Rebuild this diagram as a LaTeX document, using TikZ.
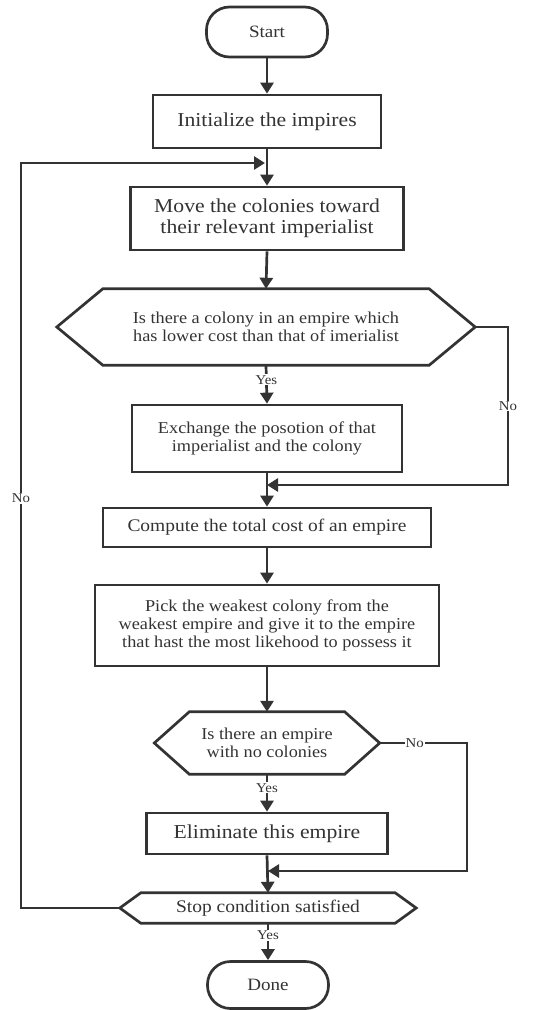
\documentclass[tikz,border=0pt]{standalone}
\usepackage{fontspec}
\setmainfont{Liberation Serif}[FakeStretch=1.1]
\usetikzlibrary{arrows.meta}
\definecolor{ink}{HTML}{333333}
\tikzset{
  box/.style={draw=ink, line width=2.7pt, rectangle, align=center, text=ink, inner sep=2pt},
  term/.style={box, rounded corners=23pt, font=\fontsize{17.3}{19}\selectfont},
  hexnode/.style={rectangle, align=center, text=ink, inner sep=0pt},
  arr/.style={draw=ink, line width=2.7pt, -{Triangle[width=13pt,length=11pt]}},
  ln/.style={draw=ink, line width=2.7pt},
  lbl/.style={fill=white, text=ink, inner sep=1pt, font=\fontsize{13.5}{15}\selectfont},
  bigf/.style={font=\fontsize{19.7}{20.5}\selectfont},
  smallf/.style={font=\fontsize{16.6}{18}\selectfont},
  midf/.style={font=\fontsize{17.7}{19}\selectfont},
}
\newcommand\hexdraw[2]{\draw[ln] (#1.west) -- ([xshift=#2]#1.north west) -- ([xshift=-#2]#1.north east) -- (#1.east) -- ([xshift=-#2]#1.south east) -- ([xshift=#2]#1.south west) -- cycle;}
\begin{document}
\begin{tikzpicture}[x=1pt,y=-1pt]
\useasboundingbox (0,0) rectangle (552,1010);
\node[term, minimum width=121pt, minimum height=50pt] (start) at (267,32) {Start};
\node[box, bigf, minimum width=228pt, minimum height=53pt] (init) at (267,121.5) {Initialize the impires};
\node[box, bigf, minimum width=273pt, minimum height=63pt] (move) at (267,218.5) {Move the colonies toward\\their relevant imperialist};
\node[hexnode, smallf, minimum width=418pt, minimum height=76pt] (hex1) at (266,327) {Is there a colony in an empire which\\has lower cost than that of imerialist};
\hexdraw{hex1}{46pt}
\node[box, smallf, minimum width=270pt, minimum height=67pt] (exch) at (267,438.5) {Exchange the posotion of that\\imperialist and the colony};
\node[box, midf, minimum width=328pt, minimum height=39pt] (comp) at (267,527.5) {Compute the total cost of an empire};
\node[box, smallf, minimum width=344pt, minimum height=81pt] (pick) at (267,625.5) {Pick the weakest colony from the\\weakest empire and give it to the empire\\that hast the most likehood to possess it};
\node[hexnode, smallf, minimum width=225pt, minimum height=62pt] (hex2) at (267,743) {Is there an empire\\with no colonies};
\hexdraw{hex2}{35pt}
\node[box, bigf, minimum width=241pt, minimum height=41pt] (elim) at (267,833.5) {Eliminate this empire};
\node[hexnode, midf, minimum width=296pt, minimum height=30pt] (hex3) at (268,908) {Stop condition satisfied};
\hexdraw{hex3}{21pt}
\node[term, minimum width=121pt, minimum height=47pt] (done) at (268,985) {Done};

\coordinate (loopin) at (265,163);
\coordinate (lefttop) at (21,163);
\coordinate (leftbot) at (21,908);
\coordinate (m1) at (267,485);
\coordinate (r1a) at (508,327);
\coordinate (r1b) at (508,485);
\coordinate (m2) at (268,871);
\coordinate (r2a) at (467,743);
\coordinate (r2b) at (467,871);

\draw[arr] (start.south) -- (init.north);
\draw[arr] (init.south) -- (move.north);
\draw[arr] (move.south) -- (hex1.south |- hex1.north);
\draw[arr] (hex1.south) -- node[lbl, pos=0.38]{Yes} (exch.north);
\draw[arr] (exch.south) -- (comp.north);
\draw[arr] (comp.south) -- (pick.north);
\draw[arr] (pick.south) -- (hex2.north);
\draw[arr] (hex2.south) -- node[lbl, pos=0.36]{Yes} (elim.north);
\draw[arr] (elim.south) -- (hex3.north);
\draw[arr] (hex3.south) -- node[lbl, pos=0.33]{Yes} (done.north);

\draw[arr] (hex1.east) -- (r1a) -- node[lbl]{No} (r1b) -- (m1);
\draw[arr] (hex2.east) -- node[lbl, pos=0.4]{No} (r2a) -- (r2b) -- (m2);
\draw[arr] (hex3.west) -- (leftbot) -- node[lbl, pos=0.55]{No} (lefttop) -- (loopin);
\end{tikzpicture}
\end{document}
